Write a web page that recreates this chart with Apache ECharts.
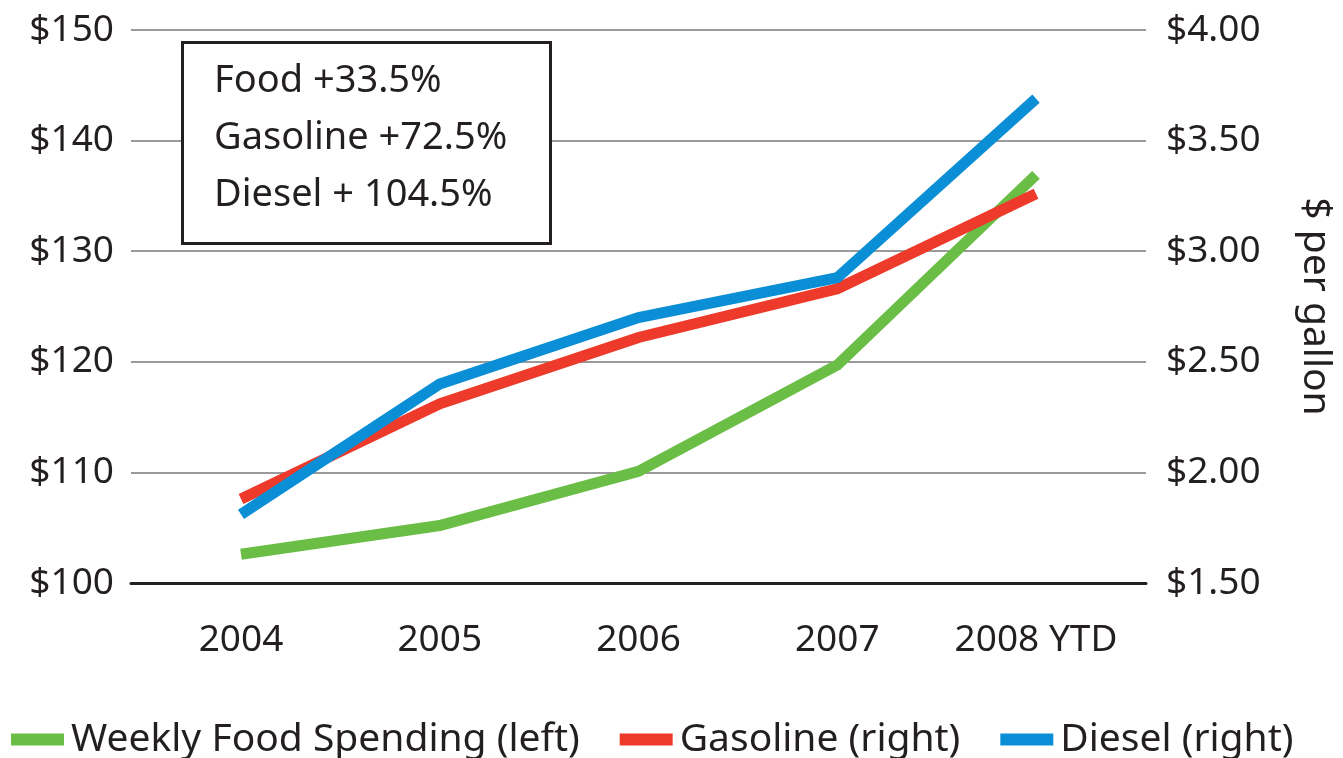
<!DOCTYPE html>
<html>
<head>
<meta charset="utf-8">
<style>
  html, body { margin: 0; padding: 0; background: #fff; }
  #chart { width: 1343px; height: 758px; }
</style>
<script src="https://cdn.jsdelivr.net/npm/echarts@6/dist/echarts.min.js"></script>
</head>
<body>
<div id="chart"></div>
<script>
// ---- data ----
const years = ["2004", "2005", "2006", "2007", "2008 YTD"];
const foodSpending = [102.6, 105.2, 110.1, 119.7, 136.9];
const gasoline = [1.88, 2.31, 2.61, 2.83, 3.26];
const diesel = [1.81, 2.40, 2.70, 2.88, 3.69];
const boxLines = ["Food +33.5%", "Gasoline +72.5%", "Diesel + 104.5%"];

const FONT = "'Noto Sans', 'Open Sans', sans-serif";
const INK = "#231f20";
const GREEN = "#6abd45";
const RED = "#ee3a2b";
const BLUE = "#0a8ed5";

const chart = echarts.init(document.getElementById("chart"));

chart.setOption({
  animation: false,
  textStyle: { fontFamily: FONT, color: INK },
  grid: [
    // frame grid: gridlines and axis labels
    { left: 131, right: 193, top: 30, bottom: 175 },
    // plot grid: where the lines sit
    { left: 241, right: 307, top: 30, bottom: 175 },
  ],
  xAxis: [
    {
      gridIndex: 0,
      type: "category",
      data: years,
      axisLine: { show: true, lineStyle: { color: INK, width: 3 } },
      axisTick: { show: false },
      axisLabel: { show: false },
    },
    {
      gridIndex: 1,
      type: "category",
      data: years,
      boundaryGap: false,
      axisLine: { show: false },
      axisTick: { show: false },
      axisLabel: { interval: 0, fontSize: 37, color: INK, fontFamily: FONT, margin: 39 },
    },
  ],
  yAxis: [
    {
      gridIndex: 0,
      type: "value",
      position: "left",
      min: 100,
      max: 150,
      interval: 10,
      axisLine: { show: false },
      axisTick: { show: false },
      axisLabel: {
        fontSize: 37, color: INK, fontFamily: FONT, margin: 17,
        formatter: (v) => "$" + v,
      },
      splitLine: { lineStyle: { color: "#9a9a9a", width: 2 } },
    },
    {
      gridIndex: 0,
      type: "value",
      position: "right",
      min: 1.5,
      max: 4,
      interval: 0.5,
      name: "$ per gallon",
      nameLocation: "middle",
      nameRotate: -90,
      nameGap: 150,
      nameTextStyle: { fontSize: 39, color: INK, fontFamily: FONT },
      axisLine: { show: false },
      axisTick: { show: false },
      axisLabel: {
        fontSize: 37, color: INK, fontFamily: FONT, margin: 20,
        formatter: (v) => "$" + v.toFixed(2),
      },
      splitLine: { show: false },
    },
    { gridIndex: 1, type: "value", min: 100, max: 150, show: false },
    { gridIndex: 1, type: "value", min: 1.5, max: 4, show: false },
  ],
  legend: {
    left: 11,
    top: 720,
    padding: 0,
    icon: "rect",
    itemWidth: 53,
    itemHeight: 12,
    itemGap: 40,
    textStyle: { fontSize: 39, color: INK, fontFamily: FONT, padding: [0, 0, 0, 2] },
    data: ["Weekly Food Spending (left)", "Gasoline (right)", "Diesel (right)"],
  },
  series: [
    {
      name: "Weekly Food Spending (left)",
      type: "line",
      xAxisIndex: 1,
      yAxisIndex: 2,
      data: foodSpending,
      showSymbol: false,
      color: GREEN,
      lineStyle: { width: 11, cap: "butt", join: "miter" },
    },
    {
      name: "Gasoline (right)",
      type: "line",
      xAxisIndex: 1,
      yAxisIndex: 3,
      data: gasoline,
      showSymbol: false,
      color: RED,
      lineStyle: { width: 11, cap: "butt", join: "miter" },
    },
    {
      name: "Diesel (right)",
      type: "line",
      xAxisIndex: 1,
      yAxisIndex: 3,
      data: diesel,
      showSymbol: false,
      color: BLUE,
      lineStyle: { width: 11, cap: "butt", join: "miter" },
    },
  ],
  graphic: [
    {
      type: "rect",
      left: 181,
      top: 41,
      z: 100,
      shape: { x: 0, y: 0, width: 368, height: 201 },
      style: { fill: "#fff", stroke: INK, lineWidth: 3 },
    },
    ...boxLines.map((t, i) => ({
      type: "text",
      left: 214,
      top: 62 + i * 57,
      z: 101,
      style: {
        text: t,
        font: "38px " + FONT,
        fill: INK,
      },
    })),
  ],
});
</script>
</body>
</html>
